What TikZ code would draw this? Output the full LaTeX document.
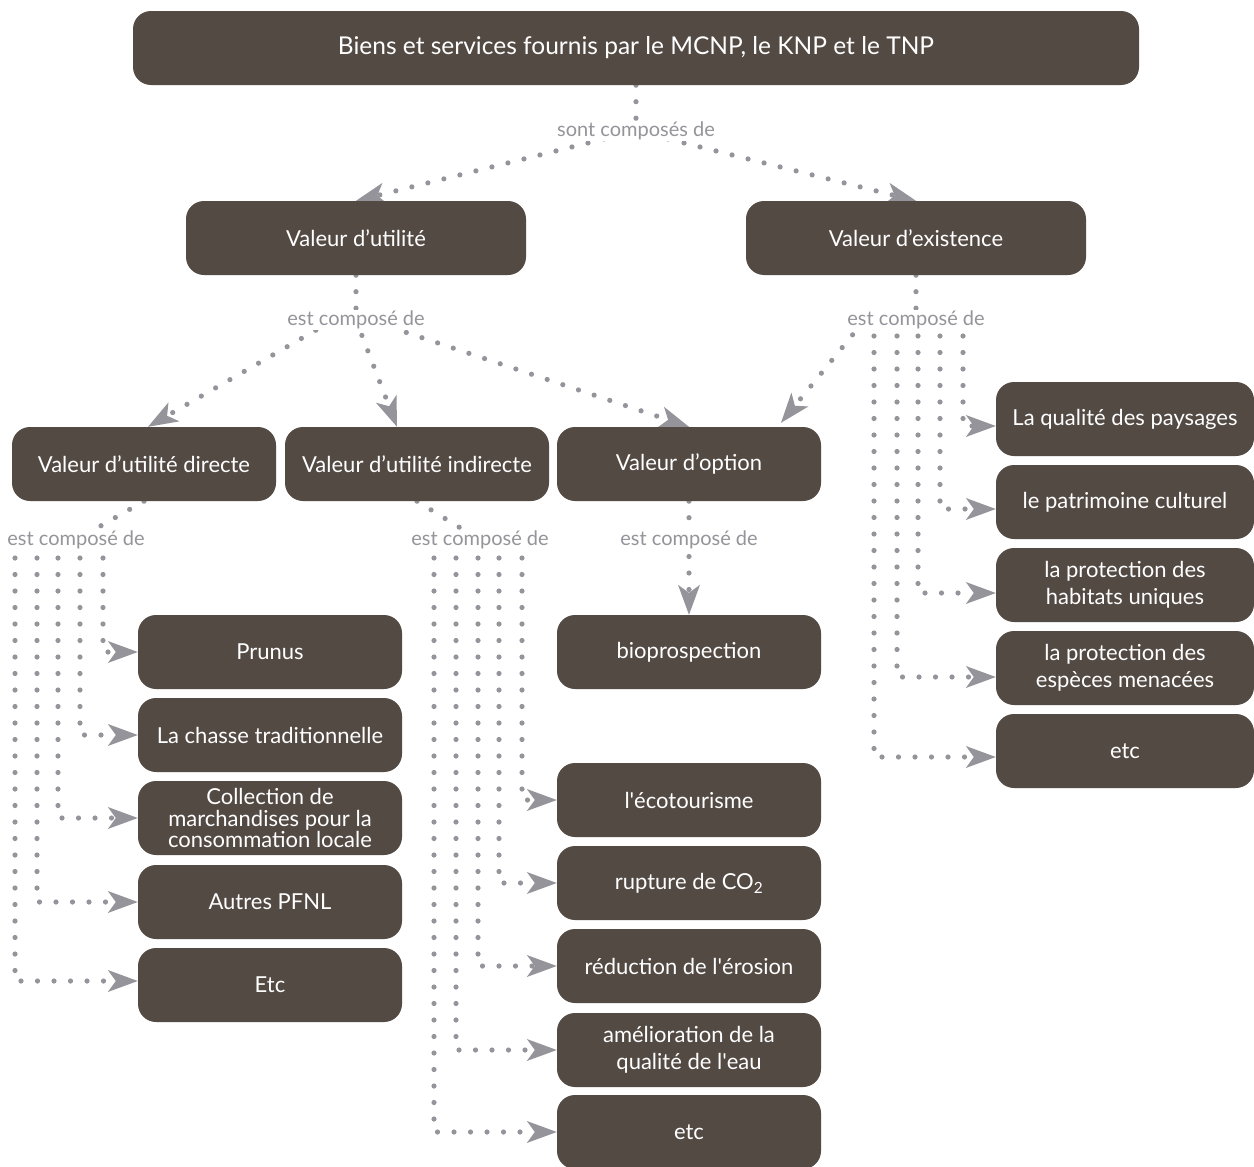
\documentclass[tikz,border=0pt]{standalone}
\usepackage{fontspec}
\setmainfont{Lato}
\usetikzlibrary{arrows.meta}
\definecolor{boxc}{RGB}{83,74,68}
\definecolor{dotc}{RGB}{148,148,154}
\pgfdeclarelayer{bg}
\pgfsetlayers{bg,main}
\begin{document}
\begin{tikzpicture}[x=1pt,y=-1pt,
  box/.style={fill=boxc, rounded corners=18pt, text=white, minimum height=74pt,
    minimum width=264pt, align=center, inner sep=0pt, font=\fontsize{22}{27}\selectfont},
  lbl/.style={text=dotc, fill=white, inner sep=1pt, font=\fontsize{20}{22}\selectfont},
  dots/.style={draw=dotc, line width=5.2pt, line cap=round, dash pattern=on 0pt off 16.5pt},
  arr/.style={dots, -{Stealth[length=30pt,width=22pt,inset=8pt,line width=0pt]}}]
\useasboundingbox (0,0) rectangle (1254,1167);
% boxes
\node[box, minimum width=1006pt, font=\fontsize{24.5}{27}\selectfont] (top) at (636,48) {Biens et services fournis par le MCNP, le KNP et le TNP};
\node[box, minimum width=340pt] (vu) at (356,238) {Valeur d’utilité};
\node[box, minimum width=340pt] (ve) at (916,238) {Valeur d’existence};
\node[box] (vud) at (144,464) {Valeur d’utilité directe};
\node[box] (vui) at (417,464) {Valeur d’utilité indirecte};
\node[box] (vo) at (689,464) {Valeur d’option};
\node[box] (prunus) at (270,652) {Prunus};
\node[box] (chasse) at (270,735) {La chasse traditionnelle};
\node[box, font=\fontsize{22}{21.5}\selectfont] (coll) at (270,818) {Collection de\\marchandises pour la\\consommation locale};
\node[box] (autres) at (270,902) {Autres PFNL};
\node[box] (etca) at (270,985) {Etc};
\node[box] (bio) at (689,652) {bioprospection};
\node[box] (eco) at (689,800) {l\textquotesingle écotourisme};
\node[box] (co2) at (689,883) {rupture de CO\textsubscript{2}};
\node[box] (ero) at (689,966) {réduction de l\textquotesingle érosion};
\node[box] (eau) at (689,1050) {amélioration de la\\qualité de l\textquotesingle eau};
\node[box] (etcb) at (689,1132) {etc};
\node[box, minimum width=258pt] (pay) at (1125,419) {La qualité des paysages};
\node[box, minimum width=258pt] (pat) at (1125,502) {le patrimoine culturel};
\node[box, minimum width=258pt] (hab) at (1125,585) {la protection des\\habitats uniques};
\node[box, minimum width=258pt] (esp) at (1125,668) {la protection des\\espèces menacées};
\node[box, minimum width=258pt] (etcc) at (1125,751) {etc};
% labels
\node[lbl] (l0) at (636,131) {sont composés de};
\node[lbl] (l1) at (356,320) {est composé de};
\node[lbl] (l2) at (916,320) {est composé de};
\node[lbl] (l3) at (76,540) {est composé de};
\node[lbl] (l4) at (480,540) {est composé de};
\node[lbl] (l5) at (689,540) {est composé de};
% helper coordinates
\coordinate (l1a) at (330,322);
\coordinate (l1b) at (375,322);
\coordinate (l2a) at (863,322);
\coordinate (a1) at (103,558);
\coordinate (a2) at (80,558);
\coordinate (a3) at (58,558);
\coordinate (a4) at (37,558);
\coordinate (a5) at (15,558);
\coordinate (b1) at (522,558);
\coordinate (b2) at (499,558);
\coordinate (b3) at (478,558);
\coordinate (b4) at (456,558);
\coordinate (b5) at (434,558);
\coordinate (c1) at (963,336);
\coordinate (c2) at (940,336);
\coordinate (c3) at (918,336);
\coordinate (c4) at (897,336);
\coordinate (c5) at (874,336);
\begin{pgfonlayer}{bg}
\draw[dots] (top.south) -- (l0.center);
\draw[arr] (l0.center) -- (vu.north);
\draw[arr] (l0.center) -- (ve.north);
\draw[dots] (vu.south) -- (l1.center);
\draw[arr] (l1a) -- ([xshift=4pt]vud.north);
\draw[arr] (l1.center) -- ([xshift=-20pt]vui.north);
\draw[arr] (l1b) -- (vo.north);
\draw[dots] (ve.south) -- (l2.center);
\draw[arr] (l2a) -- ([xshift=92pt,yshift=4pt]vo.north);
\draw[dots] (vud.south) -- (l3.center);
\draw[dots] (vui.south) -- (l4.center);
\draw[dots] (vo.south) -- (l5.center);
\draw[arr] (l5.center) -- (bio.north);
\draw[arr] (a1) |- (prunus.west);
\draw[arr] (a2) |- (chasse.west);
\draw[arr] (a3) |- (coll.west);
\draw[arr] (a4) |- (autres.west);
\draw[arr] (a5) |- ([yshift=4pt]etca.west);
\draw[arr] (b1) |- (eco.west);
\draw[arr] (b2) |- (co2.west);
\draw[arr] (b3) |- (ero.west);
\draw[arr] (b4) |- (eau.west);
\draw[arr] (b5) |- (etcb.west);
\draw[arr] (c1) |- ([yshift=-7pt]pay.west);
\draw[arr] (c2) |- ([yshift=-7pt]pat.west);
\draw[arr] (c3) |- ([yshift=-8pt]hab.west);
\draw[arr] (c4) |- ([yshift=-9pt]esp.west);
\draw[arr] (c5) |- ([yshift=-6pt]etcc.west);
\end{pgfonlayer}
\end{tikzpicture}
\end{document}
